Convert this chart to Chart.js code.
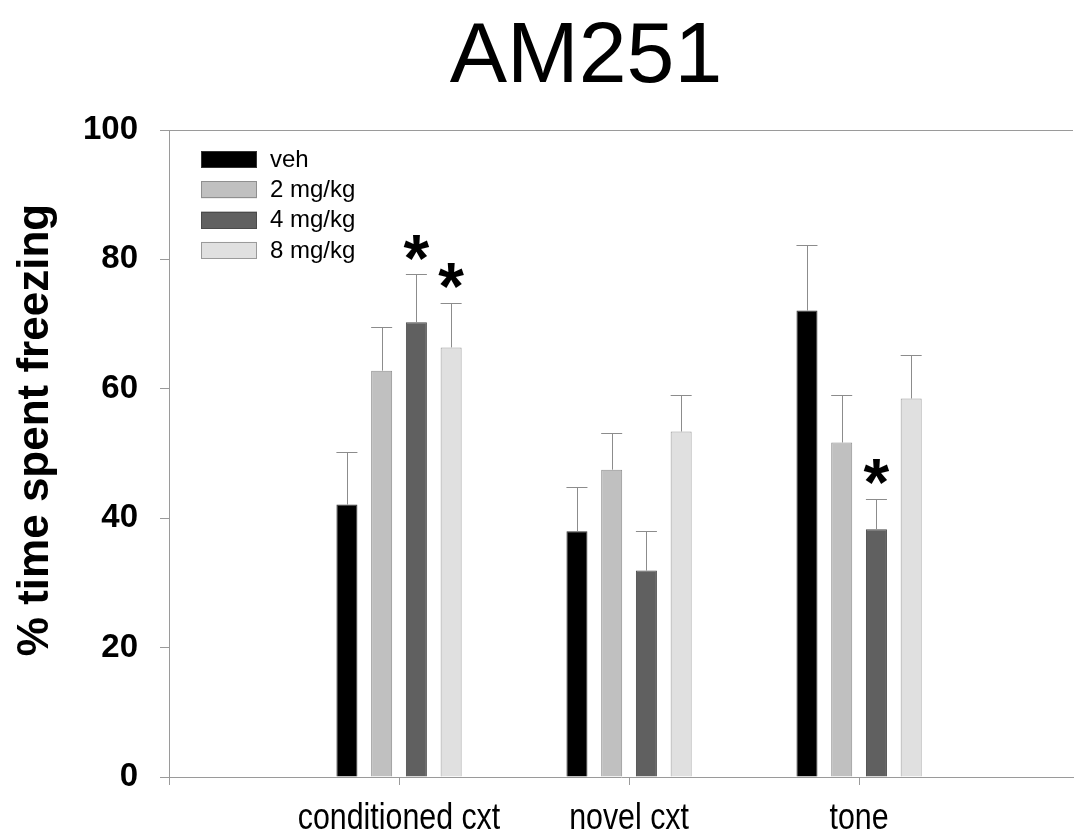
<!DOCTYPE html>
<html>
<head>
<meta charset="utf-8">
<title>AM251</title>
<script src="https://cdn.jsdelivr.net/npm/chart.js@4.4.1/dist/chart.umd.min.js"></script>
<style>
  html, body { margin: 0; padding: 0; background: #fff; }
  #c { display: block; }
</style>
</head>
<body>
<canvas id="c" width="1076" height="833"></canvas>
<script>
// ── Data ──
const chartTitle = 'AM251';
const yTitle = '% time spent freezing';
const categories = ['', 'conditioned cxt', 'novel cxt', 'tone'];
const catPos = [0, 1, 2, 3];
const yTicks = [0, 20, 40, 60, 80, 100];

const groups = ['veh', '2 mg/kg', '4 mg/kg', '8 mg/kg'];
const veh    = [42.1, 38.0, 72.1];
const mg2    = [62.8, 47.5, 51.7];
const mg4    = [70.3, 31.9, 38.3];
const mg8    = [66.4, 53.4, 58.5];
const vehErr = [8.2, 6.8, 10.1];
const mg2Err = [6.8, 5.6, 7.3];
const mg4Err = [7.4, 6.1, 4.7];
const mg8Err = [6.9, 5.6, 6.8];
// significance marks (per group, per category)
const vehStar = [false, false, false];
const mg2Star = [false, false, false];
const mg4Star = [true, false, true];
const mg8Star = [true, false, false];

const fills = ['#000000', '#c0c0c0', '#606060', '#e0e0e0'];
const edges = ['#333333', '#8f8f8f', '#4a4a4a', '#9a9a9a'];
const means = [veh, mg2, mg4, mg8];
const errs  = [vehErr, mg2Err, mg4Err, mg8Err];
const stars = [vehStar, mg2Star, mg4Star, mg8Star];

const AXIS = '#9a9a9a';
const FONT = "'Liberation Sans', Arial, Helvetica, sans-serif";

// ── Plugins ──
const decorations = {
  id: 'decorations',
  afterDatasetsDraw(chart) {
    const { ctx, chartArea: a, scales: { x, y } } = chart;
    ctx.save();

    // top frame line
    ctx.strokeStyle = AXIS;
    ctx.lineWidth = 1;
    ctx.beginPath();
    ctx.moveTo(a.left, Math.round(a.top) + 0.5);
    ctx.lineTo(a.right, Math.round(a.top) + 0.5);
    ctx.stroke();

    // error bars (upper only) + asterisks
    chart.data.datasets.forEach((ds, di) => {
      const meta = chart.getDatasetMeta(di);
      meta.data.forEach((bar, j) => {
        const top = y.getPixelForValue(means[di][j] + errs[di][j]);
        const bx = Math.round(bar.x) + 0.5;
        const half = bar.width / 2;
        ctx.strokeStyle = '#8c8c8c';
        ctx.lineWidth = 1;
        ctx.beginPath();
        ctx.moveTo(bx, bar.y);
        ctx.lineTo(bx, Math.round(top) + 0.5);
        ctx.moveTo(bar.x - half, Math.round(top) + 0.5);
        ctx.lineTo(bar.x + half, Math.round(top) + 0.5);
        ctx.stroke();

        if (stars[di][j]) {
          ctx.font = 'bold 66px ' + FONT;
          ctx.fillStyle = '#000';
          ctx.textAlign = 'center';
          ctx.textBaseline = 'alphabetic';
          const m = ctx.measureText('*');
          const cy = top - 27;
          ctx.fillText('*', bar.x, cy + (m.actualBoundingBoxAscent - m.actualBoundingBoxDescent) / 2);
        }
      });
    });

    // category labels (condensed face, like the original)
    ctx.fillStyle = '#000';
    ctx.font = '37px ' + FONT;
    ctx.textAlign = 'center';
    ctx.textBaseline = 'alphabetic';
    x.ticks.forEach((t, i) => {
      const px = x.getPixelForValue(t.value);
      ctx.save();
      ctx.translate(px, a.bottom + 52);
      ctx.scale(0.82, 1);
      ctx.fillText(categories[i], 0, 0);
      ctx.restore();
    });

    // legend
    const lx = a.left + 32, ly = a.top + 21;
    ctx.font = '24px ' + FONT;
    ctx.textAlign = 'left';
    ctx.textBaseline = 'middle';
    groups.forEach((g, i) => {
      const by = ly + i * 30.3;
      ctx.fillStyle = fills[i];
      ctx.fillRect(lx, by, 56, 17);
      ctx.strokeStyle = edges[i];
      ctx.strokeRect(lx + 0.5, Math.round(by) + 0.5, 55, 16);
      ctx.fillStyle = '#000';
      ctx.fillText(g, lx + 69, by + 9);
    });

    // title
    ctx.font = '86px ' + FONT;
    ctx.textAlign = 'center';
    ctx.textBaseline = 'alphabetic';
    ctx.fillText(chartTitle, 586, 82);

    // y axis title
    ctx.translate(36, 430);
    ctx.rotate(-Math.PI / 2);
    ctx.font = 'bold 44px ' + FONT;
    ctx.textBaseline = 'middle';
    ctx.fillText(yTitle, 0, 0);

    ctx.restore();
  }
};

// ── Chart ──
new Chart(document.getElementById('c'), {
  type: 'bar',
  data: {
    datasets: groups.map((g, i) => ({
      label: g,
      data: means[i].map((v, j) => ({ x: catPos[j + 1], y: v })),
      backgroundColor: fills[i],
      borderColor: edges[i],
      borderWidth: 1,
      categoryPercentage: 0.604,
      barPercentage: 0.605,
    }))
  },
  options: {
    responsive: false,
    animation: false,
    devicePixelRatio: 1,
    layout: { padding: { top: 130, right: 3, bottom: 0, left: 0 } },
    plugins: {
      legend: { display: false },
      title: { display: false },
      tooltip: { enabled: false },
    },
    scales: {
      x: {
        type: 'linear',
        min: 0,
        max: 3.93,
        offset: false,
        afterBuildTicks: s => { s.ticks = catPos.map(v => ({ value: v })); },
        afterFit: s => { s.height = 56; },
        ticks: { display: false },
        grid: { offset: false, drawOnChartArea: false, drawTicks: true, tickLength: 8, color: AXIS },
        border: { color: AXIS, width: 1 },
      },
      y: {
        min: 0,
        max: 100,
        afterBuildTicks: s => { s.ticks = yTicks.map(v => ({ value: v })); },
        afterFit: s => { s.width = 169; },
        ticks: {
          padding: 22,
          color: '#000',
          font: { family: FONT, size: 33, weight: 'bold' },
        },
        grid: { drawOnChartArea: false, drawTicks: true, tickLength: 9, color: AXIS },
        border: { color: AXIS, width: 1 },
      }
    }
  },
  plugins: [decorations]
});
</script>
</body>
</html>
